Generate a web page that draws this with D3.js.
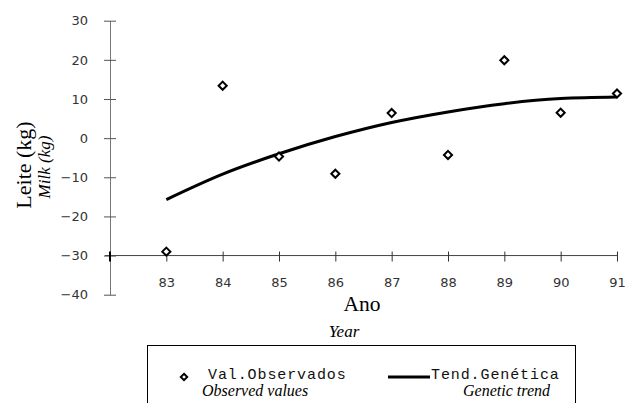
<!DOCTYPE html>
<html lang="pt">
<head>
    <meta charset="UTF-8">
    <title>Tendência genética - Leite</title>
    <script src="https://d3js.org/d3.v7.min.js"></script>
    <style>
        body { margin: 0; background: white; }
        .tick text { font-family: "DejaVu Sans", sans-serif; font-size: 13px; fill: #333; }
        .serif { font-family: "Liberation Serif", "Times New Roman", serif; }
        .mono { font-family: "Liberation Mono", "Courier New", monospace; }
    </style>
</head>
<body>
<svg width="628" height="403"></svg>

<script type="application/javascript">

    // datos
    const anos = [83, 84, 85, 86, 87, 88, 89, 90, 91]
    const valObservados = [-29.0, 13.4, -4.7, -9.1, 6.4, -4.3, 19.9, 6.5, 11.4]
    const tendGenetica = [-15.7, -9.2, -4.0, 0.4, 4.0, 6.7, 8.8, 10.1, 10.5]
    const yTicks = [-40, -30, -20, -10, 0, 10, 20, 30]

    const svg = d3.select("svg")

    const x = d3.scaleLinear().domain([82, 91]).range([110, 617])
    const y = d3.scaleLinear().domain([-40, 30]).range([294.7, 20.7])

    // eje y
    svg.append("g")
        .attr("transform", "translate(110,0)")
        .call(d3.axisLeft(y).tickValues(yTicks).tickSize(6).tickSizeOuter(0).tickPadding(16)
            .tickFormat(d => d < 0 ? "\u2212" + Math.abs(d) : d))
        .call(g => g.select(".domain").attr("stroke", "#777"))
        .call(g => g.selectAll(".tick line").attr("x1", -6).attr("x2", 6).attr("stroke", "#555"))

    // eje x (cruza en -30)
    svg.append("g")
        .attr("transform", "translate(0," + y(-30) + ")")
        .call(d3.axisBottom(x).tickValues(anos).tickSize(6).tickSizeOuter(0).tickPadding(16))
        .call(g => g.select(".domain").attr("stroke", "#444").attr("d", "M105,0H617"))
        .call(g => g.selectAll(".tick line").attr("y1", -4).attr("y2", 6).attr("stroke", "#333"))

    // marca gruesa en el origen
    svg.append("line")
        .attr("x1", x(82)).attr("x2", x(82))
        .attr("y1", y(-30) - 4).attr("y2", y(-30) + 6)
        .attr("stroke", "black").attr("stroke-width", 2)

    // línea de tendencia
    const linea = d3.line()
        .x((d, i) => x(anos[i]))
        .y(d => y(d))
        .curve(d3.curveMonotoneX)

    svg.append("path")
        .datum(tendGenetica)
        .attr("d", linea)
        .attr("fill", "none")
        .attr("stroke", "black")
        .attr("stroke-width", 3)

    // valores observados (rombos)
    const rombo = d3.symbol().type(d3.symbolDiamond2).size(42)

    svg.selectAll(".obs")
        .data(valObservados)
        .enter()
        .append("path")
        .attr("class", "obs")
        .attr("d", rombo)
        .attr("transform", (d, i) => "translate(" + x(anos[i]) + "," + y(d) + ")")
        .attr("fill", "white")
        .attr("stroke", "black")
        .attr("stroke-width", 2)

    // títulos de los ejes
    svg.append("text")
        .attr("class", "serif")
        .attr("transform", "translate(31,165) rotate(-90)")
        .attr("text-anchor", "middle")
        .attr("font-size", 22)
        .text("Leite (kg)")

    svg.append("text")
        .attr("class", "serif")
        .attr("transform", "translate(50,167) rotate(-90)")
        .attr("text-anchor", "middle")
        .attr("font-size", 17)
        .attr("font-style", "italic")
        .text("Milk (kg)")

    svg.append("text")
        .attr("class", "serif")
        .attr("x", 362).attr("y", 311)
        .attr("text-anchor", "middle")
        .attr("font-size", 21.5)
        .text("Ano")

    svg.append("text")
        .attr("class", "serif")
        .attr("x", 344).attr("y", 337)
        .attr("text-anchor", "middle")
        .attr("font-size", 17)
        .attr("font-style", "italic")
        .text("Year")

    // leyenda
    svg.append("rect")
        .attr("x", 147.5).attr("y", 345.5)
        .attr("width", 428).attr("height", 80)
        .attr("fill", "none")
        .attr("stroke", "black")

    svg.append("path")
        .attr("d", d3.symbol().type(d3.symbolDiamond2).size(26))
        .attr("transform", "translate(184,377)")
        .attr("fill", "white")
        .attr("stroke", "black")
        .attr("stroke-width", 2)

    svg.append("text")
        .attr("class", "mono")
        .attr("x", 208).attr("y", 379)
        .attr("font-size", 15)
        .attr("letter-spacing", 0.9)
        .attr("fill", "#111")
        .text("Val.Observados")

    svg.append("text")
        .attr("class", "serif")
        .attr("x", 202).attr("y", 396)
        .attr("font-size", 16)
        .attr("font-style", "italic")
        .text("Observed values")

    svg.append("line")
        .attr("x1", 388).attr("x2", 430)
        .attr("y1", 377).attr("y2", 377)
        .attr("stroke", "black")
        .attr("stroke-width", 3)

    svg.append("text")
        .attr("class", "mono")
        .attr("x", 431).attr("y", 379)
        .attr("font-size", 15)
        .attr("letter-spacing", 0.9)
        .attr("fill", "#111")
        .text("Tend.Genética")

    svg.append("text")
        .attr("class", "serif")
        .attr("x", 550).attr("y", 396)
        .attr("text-anchor", "end")
        .attr("font-size", 16)
        .attr("font-style", "italic")
        .text("Genetic trend")

</script>
</body>
</html>
